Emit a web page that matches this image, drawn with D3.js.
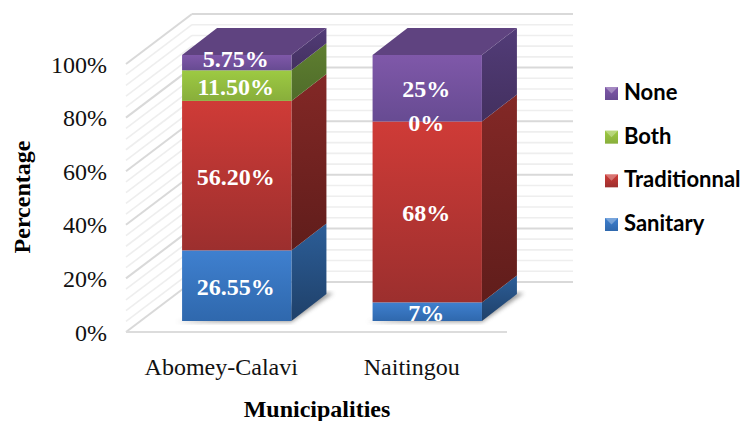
<!DOCTYPE html>
<html>
<head>
<meta charset="utf-8">
<script src="https://cdn.jsdelivr.net/npm/d3@7"></script>
<style>
body { margin: 0; background: #fff; }
svg { display: block; }
.serif { font-family: "Liberation Serif", serif; }
</style>
</head>
<body>
<div id="chart"></div>
<script>
var municipalities = ["Abomey-Calavi", "Naitingou"];
var types = ["Sanitary", "Traditionnal", "Both", "None"];
var sanitary = [26.55, 7];
var traditionnal = [56.2, 68];
var both = [11.5, 0];
var none = [5.75, 25];
var valueLabels = [["26.55%", "7%"], ["56.20%", "68%"], ["11.50%", "0%"], ["5.75%", "25%"]];
var yTicks = [0, 20, 40, 60, 80, 100];
var minorTicks = d3.range(0, 101, 4);

var width = 749, height = 421;

var faceColors = {
    Sanitary: ["#3f80cf", "#2f68ad"],
    Traditionnal: ["#cf3b37", "#9c2f2e"],
    Both: ["#9dca42", "#88ae3b"],
    None: ["#7f58a9", "#674b92"]
};
var sideColors = {
    Sanitary: ["#2c5e98", "#1f4069"],
    Traditionnal: ["#832826", "#601d1b"],
    Both: ["#5f7f30", "#4f6c2a"],
    None: ["#523c78", "#43305f"]
};

var rows = municipalities.map(function (m, i) {
    return { name: m, i: i, Sanitary: sanitary[i], Traditionnal: traditionnal[i], Both: both[i], None: none[i] };
});
var series = d3.stack().keys(types)(rows);

// front plane of the axis, the walls run back from it
var wallX = d3.scaleLinear().domain([0, 100]).range([332, 64]);
var x = d3.scaleBand().domain(municipalities).range([126, 507]).paddingInner(0.426).paddingOuter(0.213);
var barShift = 15.5;
// bars sit a bit further up and have their own depth
var y = d3.scaleLinear().domain([0, 100]).range([321, 55]);
var wall = { dx: 66, dy: -50 };
var depth = { dx: 35, dy: -27 };

var svg = d3.select("#chart").append("svg")
    .attr("width", width)
    .attr("height", height);

var defs = svg.append("defs");
function gradient(id, cols) {
    var g = defs.append("linearGradient").attr("id", id)
        .attr("x1", 0).attr("x2", 0).attr("y1", 0).attr("y2", 1);
    g.append("stop").attr("offset", "0%").attr("stop-color", cols[0]);
    g.append("stop").attr("offset", "100%").attr("stop-color", cols[1]);
}
types.forEach(function (t) {
    gradient("front" + t, faceColors[t]);
    gradient("side" + t, sideColors[t]);
});
defs.append("filter").attr("id", "soft").append("feGaussianBlur").attr("stdDeviation", 2);

// gridlines on left wall and back wall
var grid = svg.append("g");
function gridColor(d) { return d % 20 === 0 ? "#d9d9d9" : "#eeeeee"; }
function gridWidth(d) { return d % 20 === 0 ? 2 : 1.6; }

grid.selectAll(".gl").data(minorTicks).enter().append("line")
    .attr("x1", 126).attr("x2", 126 + wall.dx)
    .attr("y1", function (d) { return wallX(d); })
    .attr("y2", function (d) { return wallX(d) + wall.dy; })
    .attr("stroke", gridColor).attr("stroke-width", gridWidth);
grid.selectAll(".gb").data(minorTicks).enter().append("line")
    .attr("x1", 126 + wall.dx).attr("x2", 507 + wall.dx)
    .attr("y1", function (d) { return wallX(d) + wall.dy; })
    .attr("y2", function (d) { return wallX(d) + wall.dy; })
    .attr("stroke", gridColor).attr("stroke-width", gridWidth);
// floor
grid.append("line").attr("x1", 126).attr("x2", 507)
    .attr("y1", wallX(0)).attr("y2", wallX(0))
    .attr("stroke", "#dcdcdc").attr("stroke-width", 2);

function pts(a) { return a.map(function (p) { return p.join(","); }).join(" "); }

// bars
var bars = svg.selectAll(".bar").data(rows).enter().append("g").attr("class", "bar");

bars.append("polygon")
    .attr("fill", "#777").attr("opacity", 0.75).attr("filter", "url(#soft)")
    .attr("points", function (d) {
        var l = x(d.name) + barShift, r = l + x.bandwidth(), b = y(0);
        return pts([[l - 6, b + 1], [r, b + 1], [r + depth.dx + 7, b + depth.dy - 1], [r + depth.dx - 10, b + depth.dy - 1], [r - 20, b - 8]]);
    });

series.forEach(function (s) {
    s.forEach(function (seg) {
        var d = seg.data;
        if (seg[1] - seg[0] <= 0) return;
        var l = x(d.name) + barShift, r = l + x.bandwidth();
        var g = bars.filter(function (b) { return b.name === d.name; });
        g.append("polygon")
            .attr("fill", "url(#side" + s.key + ")")
            .attr("points", pts([[r, y(seg[0])], [r + depth.dx, y(seg[0]) + depth.dy], [r + depth.dx, y(seg[1]) + depth.dy], [r, y(seg[1])]]));
        g.append("rect")
            .attr("x", l).attr("width", x.bandwidth())
            .attr("y", y(seg[1])).attr("height", y(seg[0]) - y(seg[1]))
            .attr("fill", "url(#front" + s.key + ")");
    });
});

// top of each bar
bars.append("polygon")
    .attr("fill", "#5f4380")
    .attr("points", function (d) {
        var l = x(d.name) + barShift, r = l + x.bandwidth(), t = y(100);
        return pts([[l, t], [r, t], [r + depth.dx, t + depth.dy], [l + depth.dx, t + depth.dy]]);
    });

// value labels
series.forEach(function (s, si) {
    svg.append("g").selectAll("text").data(s).enter().append("text")
        .attr("class", "serif")
        .attr("text-anchor", "middle")
        .attr("font-size", 24)
        .attr("font-weight", "bold")
        .attr("fill", "#fff")
        .attr("x", function (d) { return x(d.data.name) + barShift + x.bandwidth() / 2 - 1; })
        .attr("y", function (d) {
            var mid = y((d[0] + d[1]) / 2);
            // the thin top label sits up on the edge of the bar
            if (s.key === "None" && d[1] - d[0] < 6) mid -= 5;
            return mid + 9;
        })
        .text(function (d, i) { return valueLabels[si][i]; });
});

// axis text
svg.append("g").selectAll("text").data(yTicks).enter().append("text")
    .attr("class", "serif")
    .attr("text-anchor", "end")
    .attr("x", 107)
    .attr("y", function (d) { return wallX(d) + 8.5; })
    .attr("font-size", 24)
    .attr("fill", "#111")
    .text(function (d) { return d + "%"; });

svg.append("g").selectAll("text").data(municipalities).enter().append("text")
    .attr("class", "serif")
    .attr("text-anchor", "middle")
    .attr("x", function (d) { return x(d) + x.bandwidth() / 2; })
    .attr("y", 375)
    .attr("font-size", 24)
    .attr("fill", "#111")
    .text(function (d) { return d; });

svg.append("text")
    .attr("class", "serif")
    .attr("text-anchor", "middle")
    .attr("x", 317).attr("y", 417)
    .attr("font-size", 24).attr("font-weight", "bold")
    .text("Municipalities");

svg.append("text")
    .attr("class", "serif")
    .attr("text-anchor", "middle")
    .attr("transform", "translate(30,197) rotate(-90)")
    .attr("font-size", 24).attr("font-weight", "bold")
    .text("Percentage");

// legend, top entry is the last series
var legendY = d3.scalePoint().domain(types.slice().reverse()).range([93, 224]);
var legend = svg.append("g").selectAll("g").data(types.slice().reverse()).enter().append("g")
    .attr("transform", function (d) { return "translate(605," + legendY(d) + ")"; });
legend.append("rect")
    .attr("x", 0).attr("y", -6).attr("width", 13).attr("height", 13)
    .attr("fill", function (d) { return "url(#front" + d + ")"; });
legend.append("polygon")
    .attr("points", "0,-6 13,-6 6.5,0.5")
    .attr("fill", "#fff").attr("opacity", 0.3);
legend.append("text")
    .attr("x", 19).attr("y", 7)
    .attr("font-family", "Lato, sans-serif")
    .attr("font-size", 22).attr("font-weight", "bold")
    .text(function (d) { return d; });
</script>
</body>
</html>
